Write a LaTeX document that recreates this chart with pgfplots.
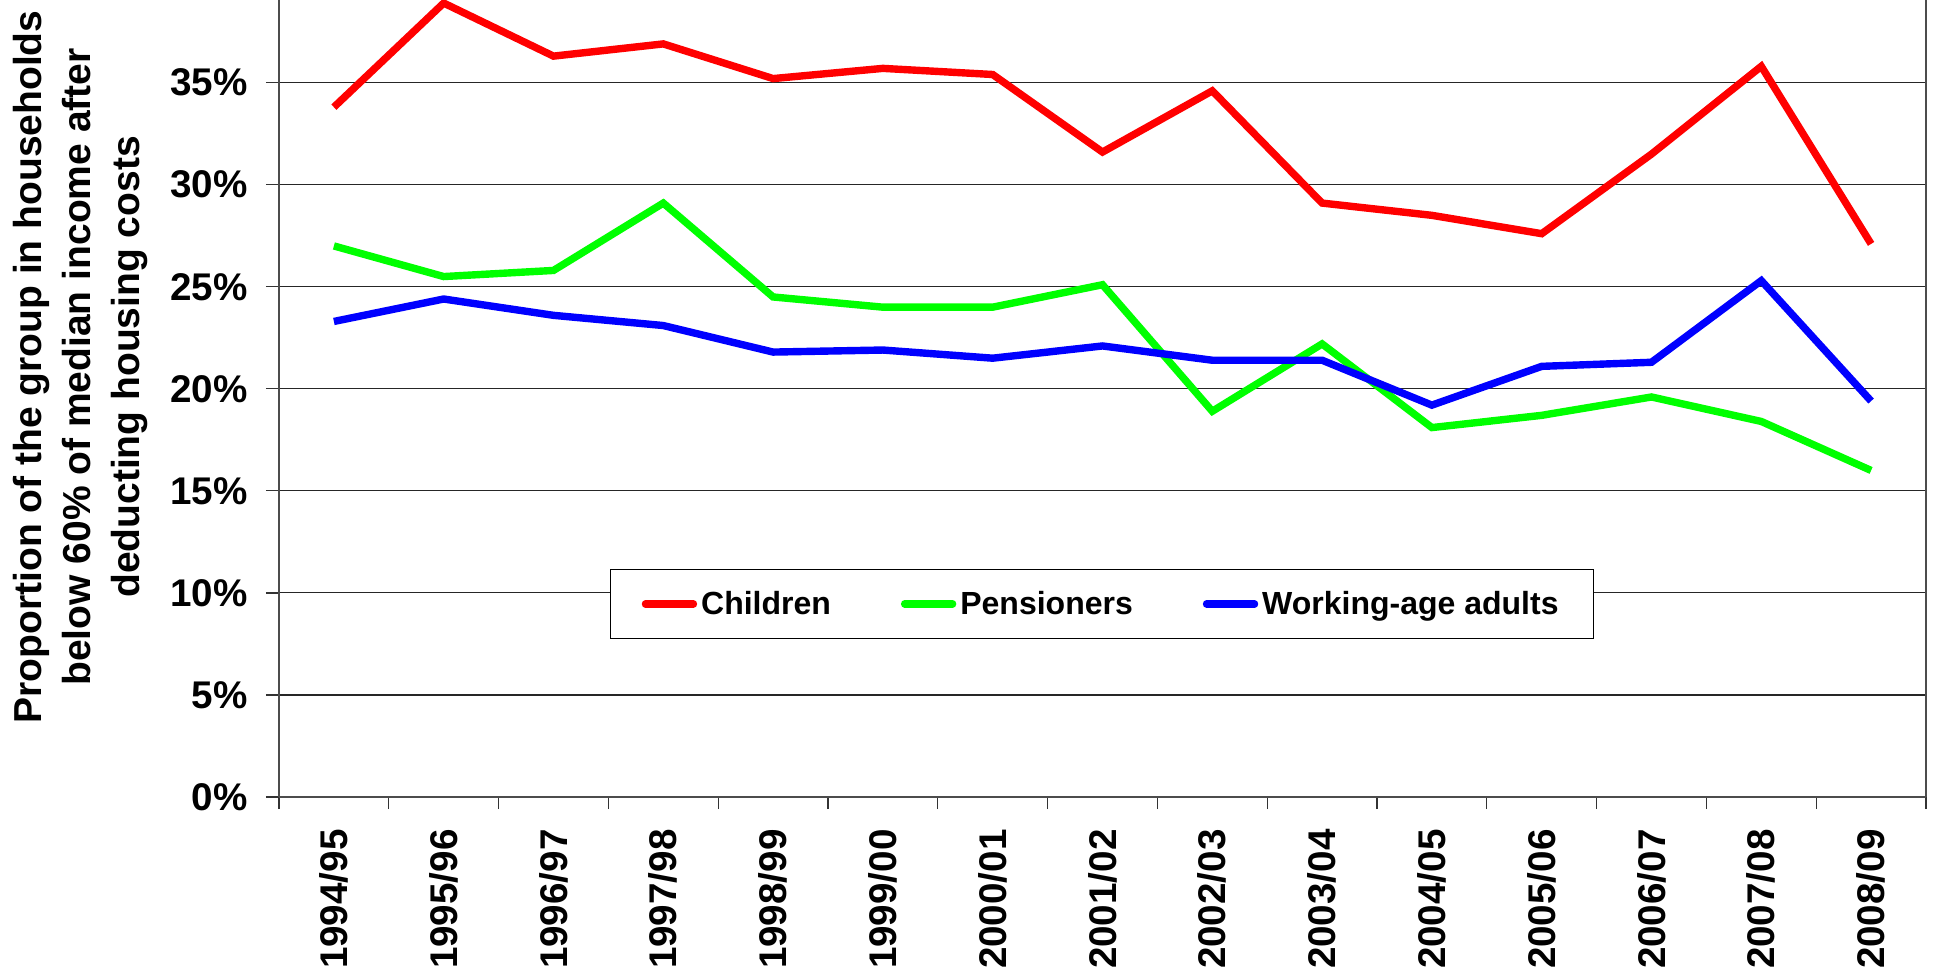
\documentclass[border=0pt]{standalone}
\usepackage{pgfplots}
\pgfplotsset{compat=1.18}
\usepackage{pgfplotstable}
\usepackage{fontspec}
\setmainfont{Liberation Sans}

\pgfplotstableread{
x children pensioners working
0  33.8 27.0 23.3
1  38.9 25.5 24.4
2  36.3 25.8 23.6
3  36.9 29.1 23.1
4  35.2 24.5 21.8
5  35.7 24.0 21.9
6  35.4 24.0 21.5
7  31.6 25.1 22.1
8  34.6 18.9 21.4
9  29.1 22.2 21.4
10 28.5 18.1 19.2
11 27.6 18.7 21.1
12 31.5 19.6 21.3
13 35.8 18.4 25.3
14 27.1 16.0 19.4
}\datatable

\begin{document}
\begin{tikzpicture}
\begin{axis}[
  name=ax, at={(0,0)}, anchor=south west,
  width=823.5pt, height=398.5pt, scale only axis,
  xmin=-0.5, xmax=14.5, ymin=0, ymax=39.05,
  axis x line*=bottom, axis y line*=box,
  xtick pos=bottom, ytick pos=left,
  xtick={0,...,14},
  xticklabels={1994/95,1995/96,1996/97,1997/98,1998/99,1999/00,2000/01,2001/02,2002/03,2003/04,2004/05,2005/06,2006/07,2007/08,2008/09},
  minor xtick={-0.5,0.5,...,14.5},
  ytick={0,5,...,35},
  yticklabels={0\%,5\%,10\%,15\%,20\%,25\%,30\%,35\%},
  ymajorgrids,
  grid style={black!85, line width=0.55pt},
  axis line style={black!70, line width=1pt},
  tick align=outside,
  major tick length=6.5pt, minor tick length=6pt,
  tick style={black!80, line width=0.6pt},
  major x tick style={draw=none},
  tick label style={font=\fontsize{19.3}{22}\selectfont\bfseries},
  xticklabel style={rotate=90, anchor=east, inner sep=0pt},
  yticklabel style={anchor=east, inner sep=0pt},
  xticklabel shift=9.5pt,
  yticklabel shift=9pt,
  legend columns=3,
  legend image code/.code={\draw[#1, line cap=round] (0pt,0pt) -- (24pt,0pt);},
  legend style={at={(rel axis cs:0.201,0.198)}, anchor=south west,
    draw=black, line width=0.7pt, fill=white,
    font=\fontsize{16}{19}\selectfont\bfseries,
    inner xsep=15.5pt, inner ysep=8.75pt,
    nodes={inner sep=2pt},
    /tikz/every even column/.append style={column sep=33pt}},
]
\addplot[red, line width=3.7pt] table[x=x, y=children] {\datatable};
\addlegendentry{Children}
\addplot[green, line width=3.7pt] table[x=x, y=pensioners] {\datatable};
\addlegendentry{Pensioners}
\addplot[blue, line width=3.7pt] table[x=x, y=working] {\datatable};
\addlegendentry{Working-age adults}
\end{axis}
\node[rotate=90, align=center, font=\fontsize{19.5}{24.5}\selectfont\bfseries] at (-99pt,215pt)
  {Proportion of the group in households\\below 60\% of median income after\\deducting housing costs};
\pgfresetboundingbox
\path (-139.5pt,-87pt) rectangle (828pt,398.5pt);
\end{tikzpicture}
\end{document}
